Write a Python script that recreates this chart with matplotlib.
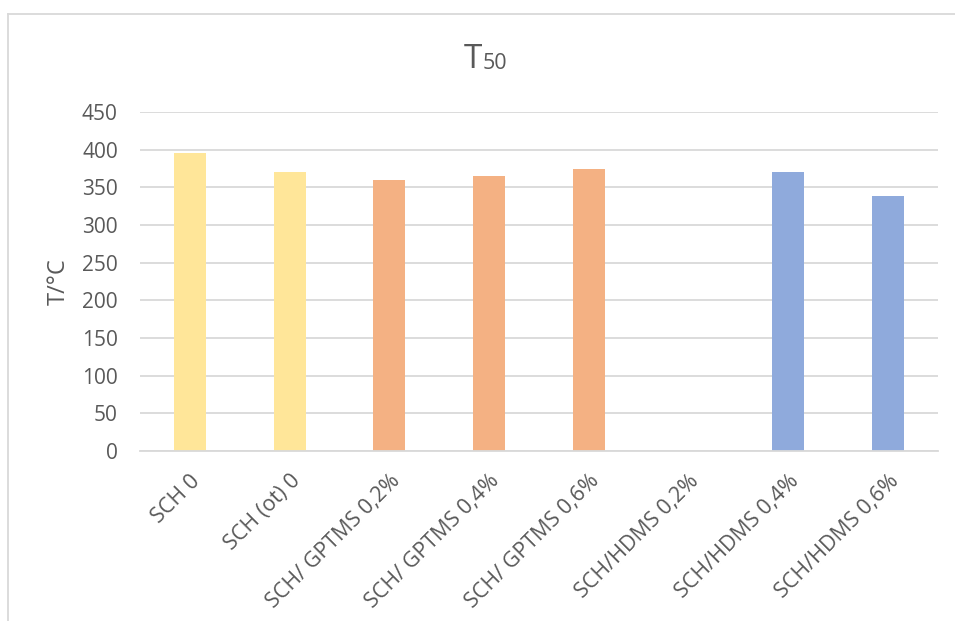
import matplotlib
matplotlib.use("Agg")
import matplotlib.pyplot as plt
from matplotlib.lines import Line2D

categories = ["SCH 0", "SCH (ot) 0", "SCH/ GPTMS 0,2%", "SCH/ GPTMS 0,4%",
              "SCH/ GPTMS 0,6%", "SCH/HDMS 0,2%", "SCH/HDMS 0,4%", "SCH/HDMS 0,6%"]
values = [395, 371, 360, 365, 374, 0, 371, 338]
colors = ["#FFE699", "#FFE699", "#F4B183", "#F4B183", "#F4B183",
          "#8FAADC", "#8FAADC", "#8FAADC"]
yticks = [0, 50, 100, 150, 200, 250, 300, 350, 400, 450]

plt.rcParams['font.family'] = ['Open Sans', 'DejaVu Sans']
TXT = "#595959"

fig = plt.figure(figsize=(9.55, 6.21), dpi=100)
ax = fig.add_axes([140/955, 1-451/621, (938-140)/955, (451-112)/621])

x = list(range(len(categories)))
ax.bar(x, values, width=0.32, color=colors, zorder=3)
ax.set_xlim(-0.5, len(categories)-0.5)
ax.set_ylim(0, 450)
ax.set_yticks(yticks)
ax.set_yticklabels([str(v) for v in yticks], color=TXT, fontsize=15)
ax.set_xticks(x)
ax.set_xticklabels(categories, rotation=45, ha='right', rotation_mode='anchor',
                   color=TXT, fontsize=15.5)
ax.tick_params(axis='both', length=0)
ax.tick_params(axis='y', pad=16)
ax.tick_params(axis='x', pad=14)
ax.grid(axis='y', color='#D9D9D9', linewidth=1.3, zorder=0)
for s in ['top', 'right', 'left']:
    ax.spines[s].set_visible(False)
ax.spines['bottom'].set_color('#D9D9D9')
ax.spines['bottom'].set_linewidth(1.3)
ax.spines['bottom'].set_zorder(4)

ax.set_ylabel("T/°C", color=TXT, fontsize=17, labelpad=8)

fig.text(482/955, 1-68/621, "T", ha='right', va='baseline', fontsize=24, color=TXT)
fig.text(483/955, 1-69/621, "50", ha='left', va='baseline', fontsize=15.5, color=TXT)

# chart frame
fig.add_artist(Line2D([7.5/955, 7.5/955], [0, 1-13.5/621], transform=fig.transFigure,
                      color='#D9D9D9', linewidth=1.3))
fig.add_artist(Line2D([7.5/955, 1], [1-13.5/621, 1-13.5/621], transform=fig.transFigure,
                      color='#D9D9D9', linewidth=1.3))

fig.savefig("out.png", dpi=100, facecolor='white')
